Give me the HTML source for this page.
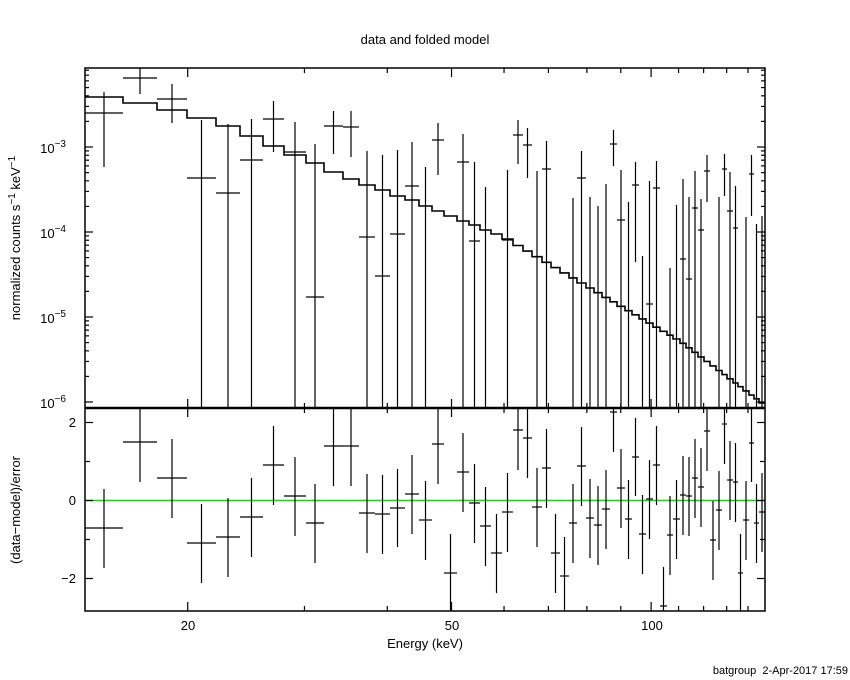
<!DOCTYPE html>
<html><head><meta charset="utf-8"><style>
body{margin:0;background:#fff;width:850px;height:680px;overflow:hidden}
svg{display:block}
text{font-family:"Liberation Sans",sans-serif;fill:#000}
</style></head><body>
<svg id="s" width="850" height="680" xmlns="http://www.w3.org/2000/svg">
<rect width="850" height="680" fill="#fff"/>
<text x="425" y="44" font-size="13" text-anchor="middle">data and folded model</text>
<text x="425" y="648" font-size="13" text-anchor="middle">Energy (keV)</text>
<text x="848" y="674" font-size="11" text-anchor="end">batgroup &#160;2-Apr-2017 17:59</text>
<text transform="translate(20,238) rotate(-90)" font-size="13" text-anchor="middle">normalized counts s<tspan dy="-5" font-size="10">−1</tspan><tspan dy="5"> keV</tspan><tspan dy="-5" font-size="10">−1</tspan></text>
<text transform="translate(20,510) rotate(-90)" font-size="13" text-anchor="middle">(data−model)/error</text>
<g font-size="13" text-anchor="end">
<text x="66" y="153">10<tspan dy="-6" font-size="10">−3</tspan></text>
<text x="66" y="238">10<tspan dy="-6" font-size="10">−4</tspan></text>
<text x="66" y="323">10<tspan dy="-6" font-size="10">−5</tspan></text>
<text x="66" y="408">10<tspan dy="-6" font-size="10">−6</tspan></text>
<text x="76" y="427">2</text>
<text x="76" y="505">0</text>
<text x="76" y="583">−2</text>
</g>
<g font-size="13" text-anchor="middle">
<text x="188" y="630">20</text>
<text x="452" y="630">50</text>
<text x="652" y="630">100</text>
</g>
<g id="g" stroke="#000" fill="none"></g>
</svg>
<script>
var g=document.getElementById('g'),h='';
function L(x1,y1,x2,y2,w,c){h+='<line x1="'+x1+'" y1="'+y1+'" x2="'+x2+'" y2="'+y2+'" stroke-width="'+(w||1.2)+'"'+(c?' stroke="'+c+'"':'')+'/>';}
var E=[85,123,157,187,216,240,263,284,306,324,343,359,375,390,405,419,432,444,457,469,480,491,502,513,523,532,542,551,560,569,577,586,594,602,610,617,625,632,639,646,653,660,667,673,680,686,692,698,704,710,716,722,727,733,738,743,749,754,759,765];
var M=[97,103,110,118,126,136,146,155,163,172,179,185,190,196,200,206,211,216,221,225,230,234,239];
var d='';
for(var i=0;i<59;i++){var xc=(E[i]+E[i+1])/2,y;
 if(i<M.length)y=M[i];else if(xc<680)y=239+(xc-507)*0.59;else y=341+(xc-680)*0.756;
 if(y>405)y=405;
 d+=(i==0?'M':'L')+E[i]+','+y.toFixed(1)+' L'+E[i+1]+','+y.toFixed(1)+' ';}
h+='<path d="'+d+'" stroke-width="1.6"/>';
var T=[[1,113,92,167],[2,78,68,94],[3,99,84,123],[4,178,120,408],[5,193,124,408],[6,160,119,408],[7,119,101,152],[8,152,122,408],[9,297,144,408],[10,126,111,154],[11,127,111,157],[12,237,151,408],[13,276,155,408],[14,234,150,408],[15,186,142,408],[16,null,167,408],[17,140,123,175],[19,162,134,408],[20,241,162,408],[21,null,187,408],[23,240,170,408],[24,135,120,164],[25,145,128,178],[26,null,171,408],[27,169,141,408],[30,null,198,408],[31,178,151,408],[32,null,197,408],[33,null,206,408],[34,null,184,408],[35,144,130,166],[36,220,170,408],[37,null,202,408],[38,185,162,262],[39,null,256,408],[40,304,181,408],[41,188,161,408],[43,null,268,408],[44,null,205,408],[45,259,179,408],[46,279,197,408],[47,208,171,408],[48,230,199,408],[49,171,155,202],[51,null,197,408],[52,169,154,196],[53,211,172,408],[54,228,186,408],[56,null,217,408],[57,174,155,216],[58,null,224,408],[59,null,216,408]];
T.forEach(function(p){var a=E[p[0]-1],b=E[p[0]],c=(a+b)/2;L(c,p[2],c,p[3]);if(p[1]!==null)L(a,p[1],b,p[1]);});
var R=[[528,489,568],[442,408,482],[478,439,518],[543,504,583],[537,498,577],[517,478,557],[465,426,505],[496,457,536],[523,484,563],[446,408,486],[446,408,486],[513,474,553],[514,475,554],[508,469,547],[494,455,534],[520,481,560],[444,408,484],[573,534,611],[472,433,512],[503,464,543],[526,487,566],[553,514,593],[512,473,552],[430,408,470],[438,408,478],[507,468,547],[468,429,508],[553,514,593],[576,537,611],[523,484,563],[466,427,506],[518,479,558],[525,486,565],[509,470,549],[412,408,452],[488,449,528],[519,480,559],[457,418,496],[534,495,574],[499,460,539],[465,426,505],[606,567,611],[535,496,575],[519,480,559],[495,456,535],[496,457,536],[478,439,518],[487,448,527],[431,408,471],[540,501,580],[510,471,550],[424,408,464],[480,441,520],[482,443,522],[573,534,611],[520,481,560],[443,408,482],[523,484,563],[512,473,552]];
L(85,500.5,765,500.5,1.5,'#00e000');
R.forEach(function(p,i){var a=E[i],b=E[i+1],c=(a+b)/2;L(c,p[1],c,p[2]);L(a,p[0],b,p[0]);});
h+='<rect x="85" y="68" width="680" height="543" stroke-width="1.5"/>';
L(85,408,765,408,2.5);
var y0=402;for(var dec=0;dec<4;dec++){for(var k=1;k<10;k++){var y=y0-85*(dec+Math.log10(k));if(y<68)continue;var l=k==1?8:4;L(85,y,85+l,y);L(765,y,765-l,y);}}
[-2,-1,0,1,2].forEach(function(v){var y=500.5-39*v;var l=(v%2==0)?8:5;L(85,y,85+l,y);L(765,y,765-l,y);});
function X(e){return 85+663*(Math.log10(e)-Math.log10(14));}
[20,30,40,50,60,70,80,90,100,110,120,130,140].forEach(function(e){var x=X(e);var l=(e==20||e==50||e==100)?9:5;
L(x,68,x,68+l);L(x,408,x,408-l);L(x,408,x,408+l);L(x,611,x,611-l);});
g.innerHTML=h;
</script>
</body></html>
